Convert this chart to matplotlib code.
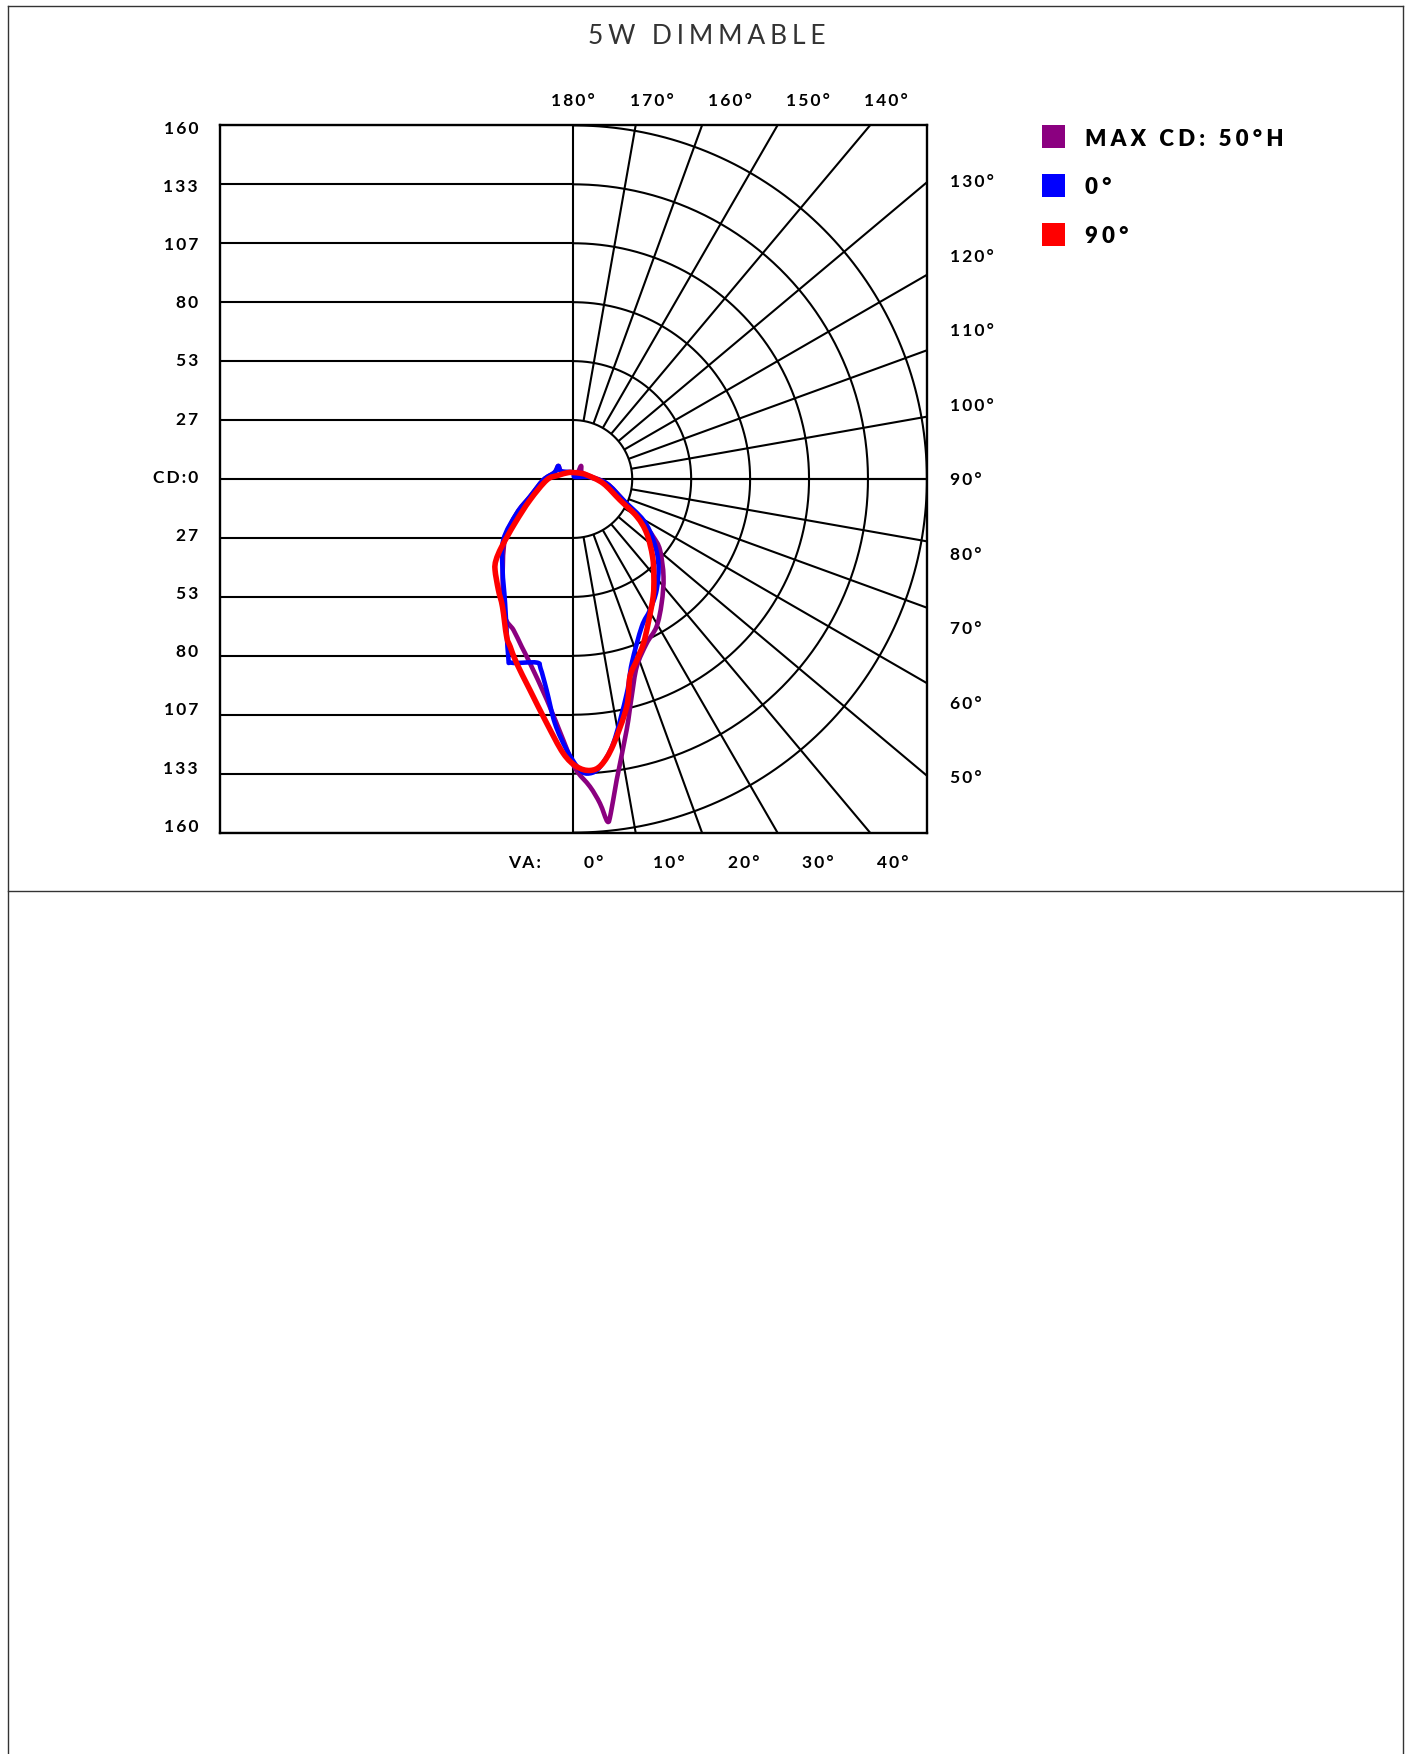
import numpy as np
import matplotlib.pyplot as plt
from matplotlib.path import Path
from matplotlib.patches import PathPatch, Rectangle

# grid levels (cd) and labels
levels = [160 / 6 * k for k in range(1, 7)]
cd_labels = ['160', '133', '107', '80', '53', '27', 'CD:0', '27', '53', '80', '107', '133', '160']
radial_angles = list(range(10, 180, 10))
top_labels = ['180°', '170°', '160°', '150°', '140°']
right_labels = ['130°', '120°', '110°', '100°', '90°', '80°', '70°', '60°', '50°']
bottom_labels = ['0°', '10°', '20°', '30°', '40°']

# curves: angle from nadir in degrees (negative = left half), candela; path order
ang_max = [-180, -153.4, -122.5, -131.0, -109.4, -88.1, -67.8, -58.8, -48.3, -34.1,
           -26.4, -21.6, -17.1, -13.2, -6.8, -2.2, 0.35, 3.1, 4.7, 5.7,
           6.4, 8.2, 12.0, 15.0, 18.7, 24.0, 29.4, 35.4, 42.7, 50.7,
           54.2, 57.8, 67.2, 82.5, 106.4, 128.3, 149.3, 146.3]
cd_max = [2.8, 3.35, 6.5, 9.0, 9.0, 13.6, 21.2, 29.9, 41.5, 57.0,
          69.5, 73.5, 79.4, 85.7, 100.7, 118.2, 130.9, 139.4, 147.3, 155.8,
          152.2, 137.6, 116.1, 102.0, 89.6, 81.5, 76.7, 69.0, 60.2, 50.7,
          44.6, 37.5, 24.5, 15.2, 6.4, 4.8, 6.9, 3.6]

ang_0 = [-180, -122.5, -131.0, -109.4, -88.1, -67.8, -58.8, -48.95, -37.8, -28.8,
         -20.1, -18.6, -11.3, -9.8, -7.2, -4.3, -1.4, 1.3, 3.2, 5.3,
         8.6, 14.0, 17.6, 24.9, 30.3, 36.9, 45.3, 52.7, 59.6, 67.2,
         82.5, 96.1, 100.3, 153.4]
cd_0 = [3.0, 6.5, 9.0, 9.0, 13.6, 21.2, 29.9, 42.0, 52.2, 64.1,
        85.6, 87.7, 84.7, 87.0, 96.3, 110.9, 122.6, 131.7, 133.4, 130.8,
        121.0, 100.0, 87.5, 73.6, 68.7, 62.8, 54.2, 45.5, 36.8, 24.5,
        15.2, 7.5, 5.6, 1.1]

ang_90 = [-180, -141.6, -102.9, -87.9, -64.1, -52.9, -46.6, -43.6, -40.7, -34.0,
          -29.0, -22.9, -20.6, -17.1, -11.6, -6.2, -2.1, 0.7, 3.3, 5.6,
          8.5, 13.2, 16.0, 19.3, 23.1, 27.4, 34.2, 39.5, 45.6, 53.5,
          59.4, 65.8, 81.6, 106.4, 131.0]
cd_90 = [2.9, 3.7, 7.2, 12.0, 21.8, 33.1, 44.6, 50.7, 54.3, 60.6,
         66.1, 77.5, 81.1, 87.2, 97.5, 111.2, 124.2, 130.2, 132.1, 130.0,
         121.8, 105.8, 93.0, 86.9, 80.9, 73.6, 64.3, 57.3, 50.2, 41.3,
         33.4, 23.1, 13.7, 6.4, 4.0]

series = [
    ('MAX CD: 50°H', ang_max, cd_max, '#8b0080', 3.3),
    ('0°', ang_0, cd_0, '#0000ff', 3.3),
    ('90°', ang_90, cd_90, '#ff0000', 4.0),
]
draw_order = [1, 0, 2]

W, H = 1410, 1754
FONT = ['Lato', 'DejaVu Sans']


def spaced(s, gap='\u2009'):
    return gap.join(s)


def smooth_closed(x, y):
    # closed Catmull-Rom through the points, as cubic Bezier segments
    p = np.column_stack([x, y])
    n = len(p)
    verts = [p[0]]
    codes = [Path.MOVETO]
    for i in range(n):
        p0, p1, p2, p3 = p[i - 1], p[i], p[(i + 1) % n], p[(i + 2) % n]
        verts += [p1 + (p2 - p0) / 6, p2 - (p3 - p1) / 6, p2]
        codes += [Path.CURVE4] * 3
    return Path(verts, codes)


fig = plt.figure(figsize=(W / 100, H / 100), dpi=100)

# page frame and legend layer, in pixel coordinates
bg = fig.add_axes([0, 0, 1, 1])
bg.set_xlim(0, W)
bg.set_ylim(H, 0)
bg.axis('off')
fc = '#333333'
bg.plot([8, 8], [6, H], color=fc, lw=1.0)
bg.plot([1403, 1403], [6, H], color=fc, lw=1.0)
bg.plot([8, 1403], [6, 6], color=fc, lw=1.0)
bg.plot([8, 1403], [891, 891], color=fc, lw=1.0)

bg.text(707, 37, spaced('5W DIMMABLE', '\u2009\u200a'), ha='center', va='center',
        fontsize=19, fontweight='normal', family=FONT, color='#333333')

for i, (name, a, c, col, lw) in enumerate(series):
    top = 125.3 + i * 48.7
    bg.add_patch(Rectangle((1042, top), 23, 23, color=col, lw=0))
    bg.text(1085, top + 14, spaced(name, '\u2009\u200a'), ha='left', va='center',
            fontsize=16, fontweight='heavy', family=FONT, color='black')

# chart
cx, cy, s = 573.3, 479.0, 2.21
half = 160 * s
ax = fig.add_axes([(cx - half) / W, 1 - (cy + half) / H, 2 * half / W, 2 * half / H])
ax.set_xlim(-160, 160)
ax.set_ylim(-160, 160)
ax.set_xticks([])
ax.set_yticks([])
for sp in ax.spines.values():
    sp.set_linewidth(1.7)
    sp.set_color('black')

gk = dict(color='black', lw=1.5, solid_capstyle='butt', zorder=1)
t = np.linspace(-np.pi / 2, np.pi / 2, 300)
for r in levels:
    ax.plot([-160, 0], [r, r], **gk)
    ax.plot([-160, 0], [-r, -r], **gk)
    ax.plot(r * np.cos(t), r * np.sin(t), **gk)
ax.plot([-160, 160], [0, 0], **gk)
ax.plot([0, 0], [-160, 160], **gk)
for a in radial_angles:
    th = np.radians(a)
    dx, dy = np.sin(th), -np.cos(th)
    reach = 160 / abs(dx) if abs(dy) < 1e-9 else min(160 / abs(dx), 160 / abs(dy))
    ax.plot([levels[0] * dx, reach * dx], [levels[0] * dy, reach * dy], **gk)

for k in draw_order:
    name, a, c, col, lw = series[k]
    th = np.radians(a)
    c = np.asarray(c)
    px, py = c * np.sin(th), -c * np.cos(th)
    ax.add_patch(PathPatch(smooth_closed(px, py), fill=False, edgecolor=col,
                           lw=lw, joinstyle='round', zorder=3 + k))

tk = dict(fontsize=12.5, fontweight='bold', family=FONT, color='black',
          va='center', clip_on=False)
ys = np.linspace(158.5, -157.4, len(cd_labels))
for y, lab in zip(ys, cd_labels):
    ax.text(-169.8, y, spaced(lab), ha='right', **tk)
for i, lab in enumerate(top_labels):
    ax.text(35.4 * i, 171.2, spaced(lab), ha='center', **tk)
for i, lab in enumerate(right_labels):
    ax.text(170.4, 134.2 - 33.7 * i, spaced(lab), ha='left', **tk)
ax.text(-21.9, -173.6, spaced('VA:'), ha='center', **tk)
for i, lab in enumerate(bottom_labels):
    ax.text(9.4 + 33.8 * i, -173.6, spaced(lab), ha='center', **tk)

fig.savefig('out.png', dpi=100, facecolor='white')
